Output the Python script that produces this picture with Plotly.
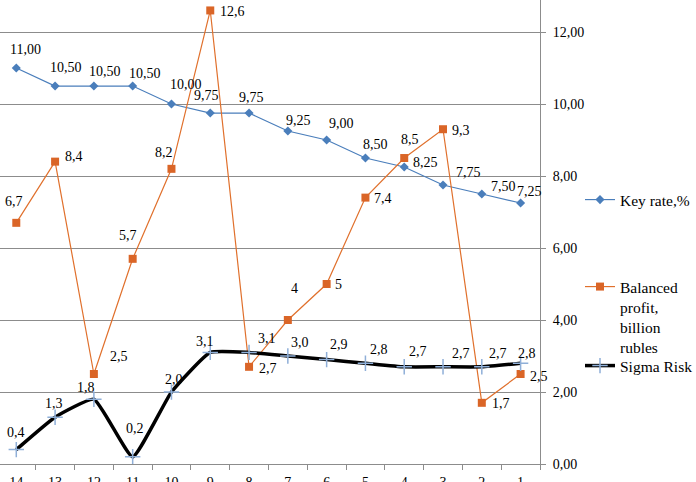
import plotly.graph_objects as go

categories = ["14", "13", "12", "11", "10", "9", "8", "7", "6", "5", "4", "3", "2", "1"]
key_rate = [11.00, 10.50, 10.50, 10.50, 10.00, 9.75, 9.75, 9.25, 9.00, 8.50, 8.25, 7.75, 7.50, 7.25]
profit = [6.7, 8.4, 2.5, 5.7, 8.2, 12.6, 2.7, 4, 5, 7.4, 8.5, 9.3, 1.7, 2.5]
sigma = [0.4, 1.3, 1.8, 0.2, 2.0, 3.1, 3.1, 3.0, 2.9, 2.8, 2.7, 2.7, 2.7, 2.8]
y_ticks = [0, 2, 4, 6, 8, 10, 12]

# label pixel offsets (dx, dy up)
key_off = [(9, 19), (11, 19), (11, 15), (12, 13), (15, 20), (-4, 18), (2, 16), (11, 11),
           (15, 17), (10, 14), (21, 5), (25, 13), (22, 8), (9, 12)]
profit_off = [(-2, 21), (19, 5), (25, 18), (-5, 23), (-7, 16), (22, -1), (19, -2), (7, 32),
              (12, 0), (18, -1), (6, 19), (18, -1), (19, -1), (18, -2)]
sigma_off = [(0, 17), (-1, 14), (-8, 12), (2, 28), (3, 13), (-5, 11), (18, 14), (12, 14),
             (12, 15), (14, 14), (14, 15), (18, 13), (16, 13), (6, 10)]

FONT = "Liberation Serif"
BLUE = "#4A7EBB"
ORANGE = "#E0702C"
GRID = "#8C8C8C"


def fmt_comma(v, nd=None):
    if nd is None:
        s = ("%g" % v)
    else:
        s = ("%." + str(nd) + "f") % v
    return s.replace(".", ",")


fig = go.Figure()
fig.add_trace(go.Scatter(
    x=categories, y=key_rate, name="Key rate,%", mode="lines+markers",
    line=dict(color=BLUE, width=1.2),
    marker=dict(symbol="diamond", size=7, color=BLUE),
    legend="legend", showlegend=True))
fig.add_trace(go.Scatter(
    x=categories, y=profit, name="Balanced<br>profit,<br>billion<br>rubles", mode="lines+markers",
    line=dict(color=ORANGE, width=1.2),
    marker=dict(symbol="square", size=8, color="#DA6527"),
    legend="legend2", showlegend=True))
fig.add_trace(go.Scatter(
    x=categories, y=sigma, name="Sigma Risk", mode="lines+markers",
    line=dict(color="black", width=3.5, shape="spline", smoothing=0.4),
    marker=dict(symbol="cross-thin", size=11, color="#8FAFD8",
                line=dict(color="#8FAFD8", width=1.5)),
    legend="legend3", showlegend=True))

annotations = []
for vals, offs, nd in [(key_rate, key_off, 2), (profit, profit_off, None), (sigma, sigma_off, 1)]:
    for i, (v, (dx, dy)) in enumerate(zip(vals, offs)):
        annotations.append(dict(
            x=i, y=v, text=fmt_comma(v, nd), showarrow=False,
            xshift=dx, yshift=dy, xanchor="center", yanchor="middle",
            font=dict(family=FONT, size=14, color="black")))

leg_common = dict(font=dict(family=FONT, size=15.5, color="black"),
                  bgcolor="rgba(0,0,0,0)", xanchor="left", x=580 / 540,
                  itemclick=False, itemdoubleclick=False)

fig.update_layout(
    width=696, height=482,
    margin=dict(l=0, r=156, t=0, b=18, autoexpand=False),
    paper_bgcolor="white", plot_bgcolor="white",
    font=dict(family=FONT, size=14, color="black"),
    showlegend=True,
    annotations=annotations,
    legend=dict(**leg_common, y=(464 - 200) / 464, yanchor="middle"),
    legend2=dict(**leg_common, y=(464 - 270) / 464, yanchor="top", valign="top"),
    legend3=dict(**leg_common, y=(464 - 366) / 464, yanchor="middle"),
    xaxis=dict(
        type="category", range=[-0.42, 13.5], showgrid=False,
        showline=True, linecolor=GRID, linewidth=1,
        ticks="outside", tickson="boundaries", ticklen=5, tickcolor=GRID,
        ticklabelstandoff=5,
        tickfont=dict(family=FONT, size=14, color="black"), zeroline=False),
    yaxis=dict(
        side="right", range=[0, 12.89], tickvals=y_ticks,
        ticktext=[fmt_comma(v, 2) for v in y_ticks],
        showgrid=True, gridcolor=GRID, gridwidth=1,
        showline=True, linecolor=GRID, linewidth=1,
        ticks="outside", ticklen=5, tickcolor=GRID, ticklabelstandoff=4,
        tickfont=dict(family=FONT, size=14, color="black"), zeroline=False),
)

fig.write_html("out.html", config={"displayModeBar": False},
               post_script="document.body.style.margin='0';")
